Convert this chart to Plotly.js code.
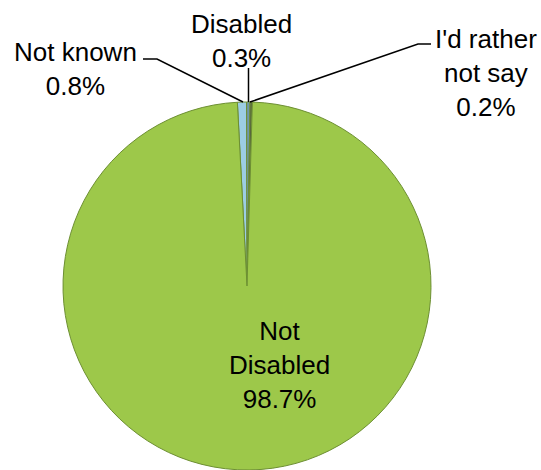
<!DOCTYPE html>
<html>
<head>
<meta charset="utf-8">
<script src="https://cdn.plot.ly/plotly-3.0.1.min.js"></script>
<style>html,body{margin:0;padding:0;background:#fff;}#chart{width:541px;height:470px;}</style>
</head>
<body>
<div id="chart"></div>
<script>
// Data
const categories = ["Not known", "Disabled", "I'd rather not say", "Not Disabled"];
const labelLines = [["Not known"], ["Disabled"], ["I'd rather", "not say"], ["Not", "Disabled"]];
const values = [0.8, 0.3, 0.2, 98.7];
const colors = ["#9ccde3", "#6f97a8", "#56633f", "#9dc84a"];

const W = 541, H = 470;
const px = x => x / W;
const py = y => 1 - y / H;

// label placement (pixels), one per category
const labelPos = [[75, 69], [241, 41], [486, 73], [279, 365]];

const font = {family: "Liberation Sans, Arial, sans-serif", size: 26, color: "#000"};

const trace = {
  type: "pie",
  labels: categories,
  values: values,
  sort: false,
  direction: "clockwise",
  rotation: -3,
  textinfo: "none",
  hoverinfo: "label+percent",
  marker: {colors: colors, line: {color: "#6d8f33", width: 1}},
  domain: {x: [63 / W, 431 / W], y: [0, 368 / H]},
  showlegend: false
};

const annotations = categories.map((c, i) => ({
  xref: "paper", yref: "paper",
  x: px(labelPos[i][0]), y: py(labelPos[i][1]),
  xanchor: "center", yanchor: "middle",
  text: labelLines[i].concat([values[i].toFixed(1) + "%"]).join("<br>"),
  showarrow: false, font: font, align: "center"
}));

const lineStyle = {color: "#000", width: 1.5};
const path = pts => "M" + pts.map(p => px(p[0]) + "," + py(p[1])).join(" L");
const shapes = [
  {type: "path", xref: "paper", yref: "paper", path: path([[143, 59], [157, 59], [243, 102]]), line: lineStyle},
  {type: "path", xref: "paper", yref: "paper", path: path([[248.5, 68], [248.5, 102]]), line: lineStyle},
  {type: "path", xref: "paper", yref: "paper", path: path([[250, 102], [418, 44], [431, 44]]), line: lineStyle}
];

const layout = {
  width: W, height: H,
  margin: {l: 0, r: 0, t: 0, b: 0},
  paper_bgcolor: "#fff",
  plot_bgcolor: "#fff",
  font: font,
  annotations: annotations,
  shapes: shapes
};

Plotly.newPlot("chart", [trace], layout, {displayModeBar: false, staticPlot: true});
</script>
</body>
</html>
